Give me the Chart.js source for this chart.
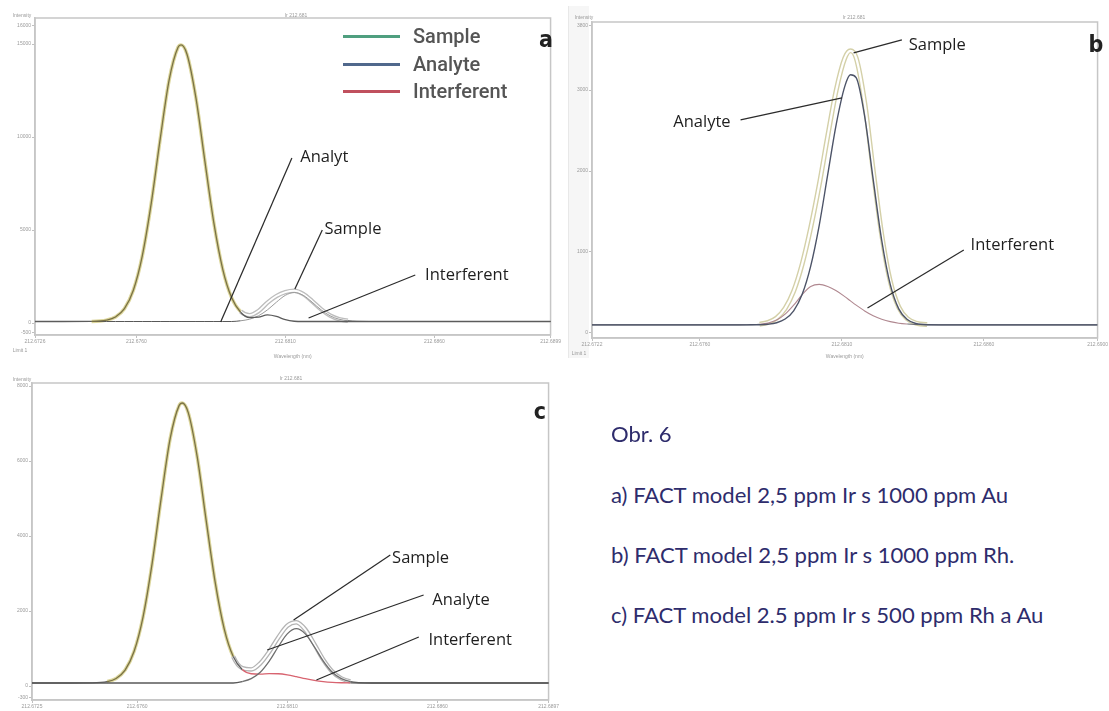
<!DOCTYPE html>
<html><head><meta charset="utf-8">
<script src="https://cdn.jsdelivr.net/npm/chart.js@4.4.1/dist/chart.umd.min.js"></script>
<style>
body{margin:0;background:#fff;}
#wrap{position:relative;width:1109px;height:711px;overflow:hidden;background:#fff;}
canvas{position:absolute;}
.band{position:absolute;left:568px;top:6px;width:20px;height:352px;background:#f6f6f6;border-left:1px solid #e8e8e8;}
.tiny{position:absolute;font:5px 'Liberation Sans',Arial,sans-serif;color:#9a9a9a;white-space:nowrap;line-height:1;transform:translate(-50%,-50%);}
.lg{position:absolute;left:343px;height:0;}
.lg i{position:absolute;left:0;top:-1.5px;width:57px;height:3px;}
.lg span{position:absolute;left:70px;top:0;transform:translateY(-50%);font:500 20px Roboto,'Liberation Sans',Arial,sans-serif;color:#555;line-height:1;white-space:nowrap;}
.pl{position:absolute;font:bold 23px 'Liberation Sans Narrow','DejaVu Sans Condensed','Liberation Sans',sans-serif;color:#222;line-height:1;transform:translate(-50%,-50%);}
.cap{position:absolute;left:611px;font-family:Lato,'Open Sans',sans-serif;color:#2e2c6c;white-space:nowrap;line-height:1;transform:translateY(-50%);}
</style></head>
<body>
<div id="wrap">
  <div class="band"></div>
  <canvas id="ca" width="562" height="360" style="left:0;top:0"></canvas>
  <canvas id="cb" width="549" height="360" style="left:560px;top:0"></canvas>
  <canvas id="cc" width="560" height="341" style="left:0;top:370px"></canvas>

  <div class="tiny" style="left:22px;top:15px">Intensity</div>
  <div class="tiny" style="left:296px;top:15px">Ir 212.681</div>
  <div class="tiny" style="left:20px;top:350px">Limit 1</div>
  <div class="tiny" style="left:584px;top:17px">Intensity</div>
  <div class="tiny" style="left:854px;top:17px">Ir 212.681</div>
  <div class="tiny" style="left:579px;top:353px">Limit 1</div>
  <div class="tiny" style="left:22px;top:379px">Intensity</div>
  <div class="tiny" style="left:291px;top:378px">Ir 212.681</div>

  <div class="lg" style="top:36px"><i style="background:#4f9f7f"></i><span>Sample</span></div>
  <div class="lg" style="top:64px"><i style="background:#50688c"></i><span>Analyte</span></div>
  <div class="lg" style="top:91px"><i style="background:#c0505e"></i><span>Interferent</span></div>

  <div class="pl" style="left:546px;top:39px">a</div>
  <div class="pl" style="left:1096px;top:44px">b</div>
  <div class="pl" style="left:540px;top:411px">c</div>

  <div class="cap" style="top:434px">Obr. 6</div>
  <div class="cap" style="top:495px">a) FACT model 2,5 ppm Ir s 1000 ppm Au</div>
  <div class="cap" style="top:555px">b) FACT model 2,5 ppm Ir s 1000 ppm Rh.</div>
  <div class="cap" style="top:615px">c) FACT model 2.5 ppm Ir s 500 ppm Rh a Au</div>
</div>
<script>
// ---------- data ----------
const waveAC = [212.6725, 212.6735, 212.6745, 212.6750, 212.6753, 212.6756, 212.6759, 212.6762, 212.6765, 212.6768,
  212.6771, 212.6774, 212.6775, 212.6777, 212.6780, 212.6783, 212.6786, 212.6789, 212.6792, 212.6795,
  212.6798, 212.6801, 212.6804, 212.6807, 212.6810, 212.6813, 212.6816, 212.6819, 212.6822, 212.6825,
  212.6828, 212.6831, 212.6834, 212.6838, 212.6844, 212.6854, 212.6867, 212.6884, 212.6900];

const aSample = [80, 80, 87, 153, 322, 770, 1765, 3612, 6431, 9881,
  13059, 14824, 14950, 14452, 12101, 8708, 5393, 2888, 1353, 623,
  423, 643, 1095, 1448, 1659, 1735, 1562, 1174, 740, 405,
  211, 123, 91, 80, 80, 80, 80, 80, 80];
const aAnalyte = [80, 80, 80, 80, 80, 80, 80, 80, 80, 80,
  80, 80, 80, 80, 80, 80, 80, 80, 80, 121,
  204, 389, 707, 1119, 1488, 1638, 1488, 1119, 707, 389,
  204, 121, 90, 80, 80, 80, 80, 80, 80];
const aInterferent = [80, 80, 87, 153, 322, 770, 1765, 3612, 6431, 9881,
  13059, 14824, 14950, 14452, 12101, 8708, 5393, 2888, 1353, 580,
  292, 318, 435, 354, 177, 95, 80, 80, 80, 80,
  80, 80, 80, 80, 80, 80, 80, 80, 80];

const cSample = [80, 80, 84, 117, 202, 426, 926, 1853, 3269, 5001,
  6597, 7483, 7547, 7296, 6116, 4412, 2763, 1524, 784, 477,
  443, 605, 915, 1294, 1608, 1700, 1506, 1117, 701, 384,
  203, 120, 90, 80, 80, 80, 80, 80, 80];
const cAnalyte = [80, 80, 80, 80, 80, 80, 80, 80, 80, 80,
  80, 80, 80, 80, 80, 80, 80, 80, 80, 118,
  196, 367, 664, 1047, 1390, 1530, 1390, 1047, 664, 367,
  196, 118, 90, 80, 80, 80, 80, 80, 80];
const cInterferent = [80, 80, 84, 117, 202, 426, 926, 1853, 3269, 5001,
  6597, 7483, 7547, 7296, 6116, 4412, 2763, 1524, 784, 439,
  327, 318, 331, 327, 298, 250, 196, 150, 117, 97,
  87, 82, 80, 80, 80, 80, 80, 80, 80];

const waveB = [212.6722, 212.6740, 212.6755, 212.6765, 212.6772, 212.6778, 212.6781, 212.6784, 212.6787, 212.6790,
  212.6793, 212.6796, 212.6799, 212.6802, 212.6805, 212.6808, 212.6811, 212.6813, 212.6815, 212.6818,
  212.6821, 212.6824, 212.6827, 212.6830, 212.6833, 212.6836, 212.6840, 212.6846, 212.6855, 212.6870,
  212.6885, 212.6900];
const bSample = [100, 100, 100, 100, 100, 102, 109, 130, 185, 304,
  517, 851, 1299, 1830, 2432, 3001, 3394, 3484, 3397, 2846,
  2009, 1215, 640, 319, 177, 123, 104, 100, 100, 100,
  100, 100];
const bAnalyte = [100, 100, 100, 100, 100, 101, 102, 108, 126, 172,
  274, 478, 826, 1330, 1958, 2580, 3045, 3188, 3153, 2674,
  1896, 1145, 600, 298, 166, 118, 102, 100, 100, 100,
  100, 100];
const bInterferent = [100, 100, 100, 100, 100, 102, 107, 122, 159, 232,
  343, 473, 573, 600, 574, 521, 449, 396, 344, 272,
  213, 170, 140, 121, 111, 105, 102, 100, 100, 100,
  100, 100];

// tick values
const aXTicks = [212.6726, 212.676, 212.681, 212.686, 212.6899];
const bXTicks = [212.6722, 212.676, 212.681, 212.686, 212.6900];
const cXTicks = [212.6725, 212.676, 212.681, 212.686, 212.6897];
const aYTicks = [-500, 0, 5000, 10000, 15000, 16000];
const bYTicks = [0, 1000, 2000, 3000, 3800];
const cYTicks = [-300, 0, 2000, 4000, 6000, 8000];

// ---------- callouts (data coordinates) ----------
const calloutsA = [
  {text:'Analyt', from:[212.67883, 50], to:[212.68122, 8870], at:[212.68150, 8924], align:'left'},
  {text:'Sample', from:[212.68132, 1828], to:[212.68224, 5000], at:[212.68231, 5053], align:'left'},
  {text:'Interferent', from:[212.68178, 269], to:[212.68536, 2580], at:[212.68569, 2580], align:'left'}
];
const calloutsB = [
  {text:'Sample', from:[212.68141, 3458], to:[212.68311, 3619], at:[212.68335, 3557], align:'left'},
  {text:'Analyte', from:[212.68100, 2902], to:[212.67743, 2631], at:[212.67708, 2606], align:'right'},
  {text:'Interferent', from:[212.68190, 309], to:[212.68529, 1025], at:[212.68553, 1087], align:'left'}
];
const calloutsC = [
  {text:'Sample', from:[212.68121, 1760], to:[212.68443, 3494], at:[212.68449, 3414], align:'left'},
  {text:'Analyte', from:[212.68033, 960], to:[212.68554, 2427], at:[212.68583, 2294], align:'left'},
  {text:'Interferent', from:[212.68197, 160], to:[212.68538, 1307], at:[212.68570, 1227], align:'left'}
];

// ---------- helpers ----------
const pts = (xs, ys) => xs.map((x, i) => ({x, y: ys[i]}));
const midX = c => (c.p0.parsed.x + c.p1.parsed.x) / 2;
const onBase = (c, cut) => c.p0.parsed.y < cut && c.p1.parsed.y < cut;
const NONE = 'rgba(0,0,0,0)';

function calloutPlugin(items) {
  return {
    id: 'callouts',
    afterDatasetsDraw(chart) {
      const {ctx} = chart, x = chart.scales.x, y = chart.scales.y;
      ctx.save();
      ctx.strokeStyle = '#2b2b2b'; ctx.lineWidth = 1.25;
      ctx.fillStyle = '#1e1e1e';
      ctx.font = '16.5px "Open Sans", sans-serif';
      ctx.textBaseline = 'middle';
      items.forEach(c => {
        ctx.beginPath();
        ctx.moveTo(x.getPixelForValue(c.from[0]), y.getPixelForValue(c.from[1]));
        ctx.lineTo(x.getPixelForValue(c.to[0]), y.getPixelForValue(c.to[1]));
        ctx.stroke();
        ctx.textAlign = c.align;
        ctx.fillText(c.text, x.getPixelForValue(c.at[0]), y.getPixelForValue(c.at[1]));
      });
      ctx.restore();
    }
  };
}
const framePlugin = {
  id: 'frame',
  beforeDatasetsDraw(chart) {
    const {ctx, chartArea: a} = chart;
    ctx.save();
    ctx.strokeStyle = '#c6c6c6'; ctx.lineWidth = 1.5;
    ctx.strokeRect(a.left, a.top, a.right - a.left, a.bottom - a.top);
    ctx.restore();
  }
};

function axisX(min, max, ticks, h, title) {
  return {
    type: 'linear', min, max,
    afterFit: s => { s.height = h; },
    afterBuildTicks: s => { s.ticks = ticks.map(v => ({value: v})); },
    ticks: {autoSkip: false, maxRotation: 0, font: {size: 5}, color: '#9a9a9a', padding: 1,
      callback: (v, i) => ticks[i].toFixed(4)},
    grid: {display: true, drawOnChartArea: false, tickLength: 3, color: '#c0c0c0'},
    border: {display: true, color: '#c6c6c6', width: 1.5},
    title: {display: !!title, text: title || '', font: {size: 5}, color: '#9a9a9a', padding: {top: 0, bottom: 0}}
  };
}
function axisY(min, max, ticks, w) {
  return {
    type: 'linear', min, max,
    afterFit: s => { s.width = w; },
    afterBuildTicks: s => { s.ticks = ticks.map(v => ({value: v})); },
    ticks: {autoSkip: false, font: {size: 5}, color: '#9a9a9a', padding: 1,
      callback: (v, i) => String(ticks[i])},
    grid: {display: true, drawOnChartArea: false, tickLength: 3, color: '#c0c0c0'},
    border: {display: true, color: '#c6c6c6', width: 1.5}
  };
}
function makeChart(id, datasets, scales, padding, callouts) {
  return new Chart(document.getElementById(id), {
    type: 'line',
    data: {datasets},
    options: {
      responsive: false, animation: false, devicePixelRatio: 1,
      layout: {padding},
      plugins: {legend: {display: false}, tooltip: {enabled: false}},
      elements: {point: {radius: 0}, line: {cubicInterpolationMode: 'monotone', fill: false}},
      scales
    },
    plugins: [framePlugin, calloutPlugin(callouts)]
  });
}

// ---------- panel a ----------
const A_SPLIT = 212.6795, BASE_A = 130;
makeChart('ca', [
  {label: 'Interferent', data: pts(waveAC, aInterferent), borderColor: '#5c5c5c', borderWidth: 1.3, order: 1,
    segment: {borderColor: c => midX(c) < A_SPLIT && !onBase(c, BASE_A) ? '#7a7245' : '#5c5c5c'}},
  {label: 'Analyte', data: pts(waveAC, aAnalyte), borderColor: '#585858', borderWidth: 1, order: 2,
    segment: {borderColor: c => onBase(c, BASE_A) ? '#585858' : '#9a9a9a'}},
  {label: 'Sample', data: pts(waveAC, aSample), borderColor: '#fff', borderWidth: 1.8, order: 3,
    segment: {borderColor: c => (onBase(c, BASE_A) || midX(c) < A_SPLIT) ? NONE : '#ffffff'}},
  {label: 'Sample', data: pts(waveAC, aSample), borderColor: '#bdbdbd', borderWidth: 4.5, order: 4,
    segment: {borderColor: c => onBase(c, BASE_A) ? NONE : (midX(c) < A_SPLIT ? '#dcd69c' : '#bdbdbd'),
              borderWidth: c => midX(c) < A_SPLIT ? 3.5 : 4.5}}
], {x: axisX(212.6726, 212.6899, aXTicks, 25, 'Wavelength (nm)'), y: axisY(-645, 16398, aYTicks, 35)},
  {left: 0, right: 2, top: 18, bottom: 0}, calloutsA);

// ---------- panel b ----------
const BASE_B = 112;
makeChart('cb', [
  {label: 'Analyte', data: pts(waveB, bAnalyte), borderColor: '#4d5468', borderWidth: 1.4, order: 1},
  {label: 'Interferent', data: pts(waveB, bInterferent), borderColor: '#b08890', borderWidth: 1.1, order: 2,
    segment: {borderColor: c => onBase(c, BASE_B) ? '#6a6a70' : '#b08890'}},
  {label: 'Sample', data: pts(waveB, bSample), borderColor: '#fff', borderWidth: 2.2, order: 3,
    segment: {borderColor: c => onBase(c, BASE_B) ? NONE : '#ffffff'}},
  {label: 'Sample', data: pts(waveB, bSample), borderColor: '#d4d0a8', borderWidth: 5, order: 4,
    segment: {borderColor: c => onBase(c, BASE_B) ? NONE : '#d4d0a8'}}
], {x: axisX(212.6722, 212.6900, bXTicks, 22, 'Wavelength (nm)'), y: axisY(-62, 3840, bYTicks, 32)},
  {left: 0, right: 0, top: 22, bottom: 0}, calloutsB);

// ---------- panel c ----------
const C_SPLIT = 212.6792, C_RED0 = 212.6787, C_RED1 = 212.6830, BASE_C = 125, RED_CUT = 600;
makeChart('cc', [
  {label: 'Analyte', data: pts(waveAC, cAnalyte), borderColor: '#5a5a5a', borderWidth: 1.3, order: 1,
    segment: {borderColor: c => onBase(c, BASE_C) ? '#5a5a5a' : '#6e6e6e'}},
  {label: 'Interferent', data: pts(waveAC, cInterferent), borderColor: '#5c5c5c', borderWidth: 1.3, order: 2,
    segment: {borderColor: c => {
      const m = midX(c);
      if (m > C_RED0 && m < C_RED1 && onBase(c, RED_CUT)) return '#d86470';
      return (m < C_SPLIT && !onBase(c, BASE_C)) ? '#7a7245' : '#5c5c5c';
    }}},
  {label: 'Sample', data: pts(waveAC, cSample), borderColor: '#fff', borderWidth: 1.9, order: 3,
    segment: {borderColor: c => (onBase(c, BASE_C) || midX(c) < C_SPLIT) ? NONE : '#ffffff'}},
  {label: 'Sample', data: pts(waveAC, cSample), borderColor: '#b4b4b4', borderWidth: 4.5, order: 4,
    segment: {borderColor: c => onBase(c, BASE_C) ? NONE : (midX(c) < C_SPLIT ? '#dcd69c' : '#b4b4b4'),
              borderWidth: c => midX(c) < C_SPLIT ? 3.5 : 4.5}}
], {x: axisX(212.6725, 212.6897, cXTicks, 11, ''), y: axisY(-373, 8080, cYTicks, 32)},
  {left: 0, right: 3, top: 13, bottom: 0}, calloutsC);

// ---------- caption size fit ----------
(function () {
  const m = document.createElement('canvas').getContext('2d');
  m.font = '100px Lato, "Open Sans", sans-serif';
  const w = m.measureText('a) FACT model 2,5 ppm Ir s 1000 ppm Au').width;
  const size = (100 * 399 / w).toFixed(2) + 'px';
  document.querySelectorAll('.cap').forEach(el => { el.style.fontSize = size; });
})();
</script>
</body></html>
